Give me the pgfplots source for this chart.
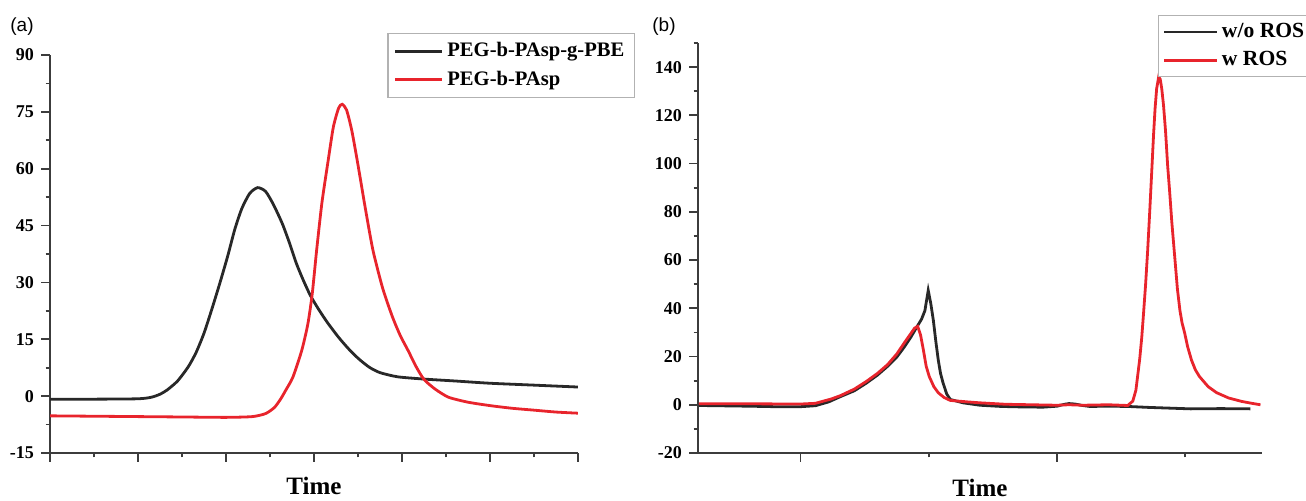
\documentclass[border=0pt]{standalone}
\usepackage{fontspec}
\setmainfont{Liberation Serif}
\newfontfamily\arialfont{Liberation Sans}
\usepackage{pgfplots}
\pgfplotsset{compat=1.18}

\definecolor{axisgray}{RGB}{60,60,60}
\definecolor{curveblack}{RGB}{40,40,40}
\definecolor{curvered}{RGB}{232,36,44}

\pgfplotsset{
  origin/.style={
    scale only axis,
    axis lines=left,
    axis line style={-, line width=1pt, color=axisgray},
    tick align=outside,
    major tick length=4.5pt,
    minor tick length=2.2pt,
    every tick/.style={line width=0.9pt, color=axisgray},
    tick label style={font=\bfseries\fontsize{9}{9}\selectfont},
    /pgf/number format/assume math mode=true,
    xticklabels={},
    xlabel={Time},
    xlabel style={font=\bfseries\fontsize{12.5}{12.5}\selectfont, anchor=north, inner sep=0pt},
    legend cell align=left,
    legend style={draw=gray!60, line width=0.6pt},
  }
}

\begin{document}
\begin{tikzpicture}
\useasboundingbox (0,0) rectangle (653pt,250.5pt);

\node[font=\arialfont\fontsize{9.5}{9.5}\selectfont] at (11pt,237pt) {(a)};
\node[font=\arialfont\fontsize{9.5}{9.5}\selectfont] at (332pt,237pt) {(b)};

% panel (a)
\begin{axis}[origin,
  at={(25pt,24pt)}, anchor=south west,
  width=264pt, height=199pt,
  xmin=0, xmax=6, ymin=-15, ymax=90,
  xtick={0,1,...,6},
  minor xtick={0.5,1.5,...,5.5},
  ytick={-15,0,...,90},
  minor ytick={-7.5,7.5,...,82.5},
  xlabel style={at={(axis description cs:0.5,-0.06)}},
  legend image code/.code={\draw[#1] (3pt,0cm) -- ++(0.82cm,0cm);},
  legend style={at={(1.108,1.055)}, anchor=north east,
    font=\bfseries\fontsize{10.3}{11}\selectfont,
    inner xsep=3pt, inner ysep=2.5pt, row sep=1.5pt},
]
\addplot[curveblack, line width=1.4pt, smooth, tension=0.4] coordinates {
  (0,-0.8) (0.5,-0.8) (1.0,-0.7) (1.15,-0.3) (1.25,0.5) (1.33,1.6)
  (1.45,4) (1.57,7.7) (1.66,11.5) (1.75,16.6) (1.84,23) (1.93,29.8)
  (2.02,37) (2.10,44) (2.18,49.5) (2.27,53.5) (2.36,55) (2.45,54)
  (2.54,50.5) (2.64,45.5) (2.72,40.5) (2.80,35) (2.88,30.5) (2.96,26.5)
  (3.05,23) (3.15,19.5) (3.28,15.5) (3.40,12.3) (3.51,9.8) (3.63,7.6)
  (3.75,6.2) (3.95,5.1) (4.25,4.5) (4.6,4.0) (5.0,3.4) (5.5,2.9) (6.0,2.4)
};
\addlegendentry{PEG-b-PAsp-g-PBE}
\addplot[curvered, line width=1.4pt, smooth, tension=0.4] coordinates {
  (0,-5.2) (0.5,-5.3) (1.0,-5.4) (1.5,-5.5) (2.0,-5.6) (2.3,-5.4)
  (2.45,-4.6) (2.55,-3) (2.62,-0.8) (2.68,1.6) (2.76,5) (2.86,12)
  (2.93,19) (2.98,27) (3.03,38.5) (3.09,51) (3.16,62) (3.22,71)
  (3.28,76) (3.32,77) (3.37,75.5) (3.43,70) (3.50,61) (3.58,50)
  (3.67,38.5) (3.78,28.5) (3.89,21) (3.98,16) (4.07,12) (4.16,7.8)
  (4.25,4.4) (4.38,1.8) (4.53,-0.3) (4.75,-1.6) (5.0,-2.5) (5.25,-3.2)
  (5.5,-3.7) (5.75,-4.2) (6.0,-4.5)
};
\addlegendentry{PEG-b-PAsp}
\end{axis}

% panel (b)
\begin{axis}[origin,
  at={(349pt,24pt)}, anchor=south west,
  width=282pt, height=205pt,
  xmin=6, xmax=28, ymin=-20, ymax=150,
  xtick={10,20},
  minor xtick={15,25},
  ytick={-20,0,...,140},
  minor ytick={-10,10,...,150},
  xlabel style={at={(axis description cs:0.5,-0.064)}},
  legend image code/.code={\draw[#1] (0cm,0cm) -- (0.92cm,0cm);},
  legend style={at={(0.816,1.068)}, anchor=north west,
    font=\bfseries\fontsize{10.8}{11.5}\selectfont,
    inner xsep=2pt, inner ysep=1.8pt, row sep=1.5pt},
]
\addplot[curveblack, line width=1.4pt] coordinates {
  (6.03,-0.3) (8,-0.6) (9,-0.8) (10,-0.8) (10.58,-0.4) (11.1,1.2)
  (11.56,3.4) (12.1,5.8) (12.57,9) (13.0,12.3) (13.39,15.9) (13.75,19.7)
  (14.05,24) (14.3,28) (14.55,32.5) (14.72,35.5) (14.85,39) (14.98,47.4)
  (15.08,42) (15.18,35) (15.28,26) (15.37,18.7) (15.46,13) (15.56,9)
  (15.7,4.5) (15.84,2.2) (16.34,0.8) (17.0,-0.2) (17.82,-0.7) (18.6,-0.9)
  (19.46,-1.0) (20.0,-0.6) (20.3,0.2) (20.47,0.5) (20.7,0.3) (21.0,-0.3)
  (21.28,-0.7) (22.0,-0.6) (22.76,-0.7) (23.58,-1.1) (24.4,-1.4)
  (25.21,-1.7) (26.4,-1.6) (27.55,-1.7)
};
\addlegendentry{w/o ROS}
\addplot[curvered, line width=1.4pt] coordinates {
  (6.03,0.4) (8,0.4) (10,0.3) (10.58,0.6) (11.2,2.4) (11.56,3.8)
  (12.1,6.5) (12.57,9.7) (13.0,13) (13.39,16.6) (13.75,21) (14.05,25.7)
  (14.3,29.5) (14.45,31.8) (14.57,32.5) (14.68,29) (14.79,22.8) (14.9,16)
  (15.02,11.7) (15.2,7.5) (15.37,5) (15.6,3) (15.84,1.8) (16.5,1.2)
  (17.0,0.8) (18.0,0.2) (19.0,0) (20.0,-0.2) (20.47,0) (21.0,-0.2)
  (22.0,0) (22.76,-0.3) (22.96,1.5) (23.08,6) (23.15,12) (23.23,19)
  (23.31,28) (23.38,38) (23.46,50) (23.54,64) (23.62,80) (23.70,97)
  (23.77,112) (23.83,123) (23.89,131) (23.97,136) (24.03,135) (24.09,131)
  (24.16,124) (24.24,113) (24.32,99) (24.40,88) (24.48,76) (24.59,62)
  (24.7,48) (24.8,39) (24.88,34) (24.98,29.9) (25.1,24) (25.25,18.5)
  (25.4,14.5) (25.56,11.7) (25.9,7.5) (26.23,5) (26.7,2.8) (27.2,1.4)
  (27.6,0.6) (27.94,0)
};
\addlegendentry{w ROS}
\end{axis}
\end{tikzpicture}
\end{document}
